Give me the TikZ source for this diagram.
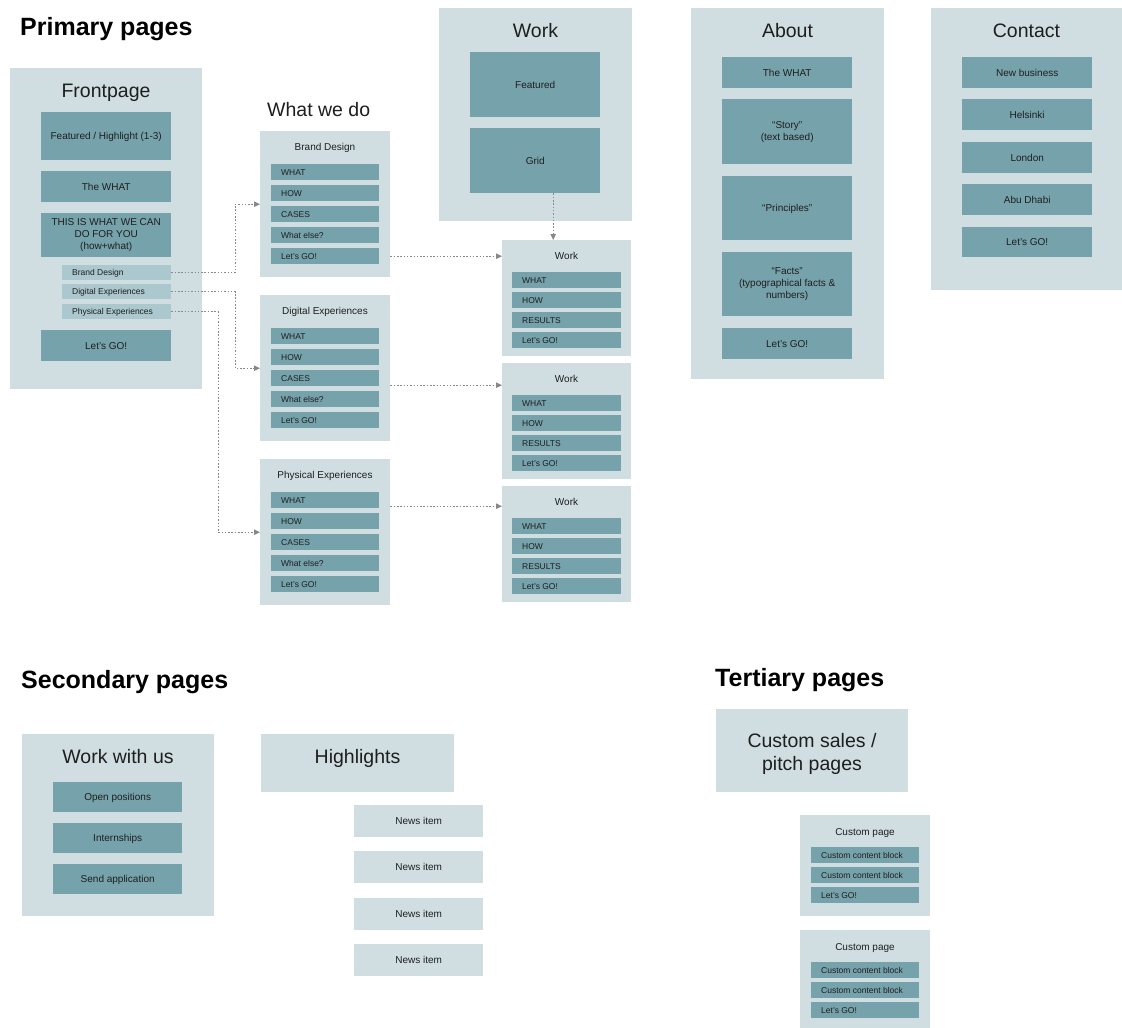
\documentclass[tikz,border=0pt]{standalone}
\usepackage{fontspec}
\setmainfont{Liberation Sans}
\usetikzlibrary{arrows.meta}

\definecolor{panelc}{HTML}{D0DEE2}
\definecolor{itemc}{HTML}{76A2AB}
\definecolor{lightc}{HTML}{ABC8CE}
\definecolor{txt}{HTML}{1E1E1E}
\definecolor{linkc}{HTML}{888888}

% box from (x1,y1) to (x2,y2), text centred
\newcommand\pgbox[7]{%
  \pgfmathsetmacro\bkw{#5-#3}\pgfmathsetmacro\bkh{#6-#4}%
  \node[#1,minimum width=\bkw pt,minimum height=\bkh pt,anchor=north west] (#2) at (#3,#4) {#7};}
% box from (x1,y1) to (x2,y2), text left aligned with 10pt padding
\newcommand\pgboxl[7]{%
  \pgfmathsetmacro\bkw{#5-#3}\pgfmathsetmacro\bkh{#6-#4}\pgfmathsetmacro\bkt{#5-#3-20}%
  \node[#1,minimum width=\bkw pt,minimum height=\bkh pt,anchor=north west] (#2) at (#3,#4) {\makebox[\bkt pt][l]{#7}};}

\tikzset{
  panel/.style={fill=panelc, inner sep=0pt},
  item/.style={fill=itemc, inner sep=0pt, text=txt, font=\fontsize{10}{12}\selectfont, text height=7.2pt, text depth=0pt},
  mitem/.style={fill=itemc, inner sep=0pt, text=txt, font=\fontsize{10}{11.8}\selectfont, align=center},
  sitem/.style={fill=itemc, inner sep=0pt, text=txt, font=\fontsize{8.5}{10}\selectfont, text height=6.1pt, text depth=0pt},
  subitem/.style={fill=lightc, inner sep=0pt, text=txt, font=\fontsize{8.5}{10}\selectfont, text height=6.1pt, text depth=0pt},
  news/.style={fill=panelc, inner sep=0pt, text=txt, font=\fontsize{10}{12}\selectfont, text height=7.2pt, text depth=0pt},
  ptitle/.style={inner sep=0pt, text=txt, font=\fontsize{19.5}{23}\selectfont, anchor=base, align=center},
  btitle/.style={inner sep=0pt, text=txt, font=\fontsize{10}{12}\selectfont, anchor=base},
  heading/.style={inner sep=0pt, text=black, font=\bfseries\fontsize{25}{30}\selectfont, anchor=base west},
  link/.style={draw=linkc, line width=1pt, dash pattern=on 1.5pt off 1.8pt,
               -{Triangle[length=6pt,width=5.5pt]}},
}

\begin{document}
\begin{tikzpicture}[x=1pt,y=-1pt]
\useasboundingbox (0,0) rectangle (1122,1028);
\fill[white] (0,0) rectangle (1122,1028);

% ---------- headings ----------
\node[heading] (h1) at (20,35) {Primary pages};
\node[heading] (h2) at (21,688) {Secondary pages};
\node[heading] (h3) at (715,686) {Tertiary pages};

% ---------- Frontpage ----------
\pgbox{panel}{fp}{10}{68}{202}{389}{}
\node[ptitle] (fp-t) at (106,97) {Frontpage};
\pgbox{item}{fp-feat}{41}{112}{171}{160}{Featured / Highlight (1-3)}
\pgbox{item}{fp-what}{41}{171}{171}{202}{The WHAT}
\pgbox{mitem}{fp-this}{41}{213}{171}{257}{THIS IS WHAT WE CAN\\DO FOR YOU\\(how+what)}
\pgboxl{subitem}{fbd}{62}{265}{171}{280}{Brand Design}
\pgboxl{subitem}{fde}{62}{284}{171}{299}{Digital Experiences}
\pgboxl{subitem}{fpe}{62}{304}{171}{319}{Physical Experiences}
\pgbox{item}{fp-go}{41}{330}{171}{361}{Let's GO!}

% ---------- What we do ----------
\node[ptitle, anchor=base west] (wd-t) at (267,116) {What we do};
\foreach \n/\T/\ttl in {1/131/Brand Design, 2/295/Digital Experiences, 3/459/Physical Experiences} {
  \pgfmathsetmacro\B{\T+146}
  \pgbox{panel}{wd\n}{260}{\T}{390}{\B}{}
  \node[btitle] (wd\n-t) at (325,\T+19) {\ttl};
  \foreach \k/\lab in {0/WHAT,1/HOW,2/CASES,3/What else?,4/Let's GO!} {
    \pgfmathsetmacro\ya{\T+33+21*\k}\pgfmathsetmacro\yb{\ya+16}
    \pgboxl{sitem}{wd\n-\k}{271}{\ya}{379}{\yb}{\lab}
  }
}

% ---------- Work ----------
\pgbox{panel}{wtop}{439}{8}{632}{221}{}
\node[ptitle] (wtop-t) at (535.5,37) {Work};
\pgbox{item}{wfeat}{470}{52}{600}{117}{Featured}
\pgbox{item}{wgrid}{470}{128}{600}{193}{Grid}

\foreach \n/\T in {1/240, 2/363, 3/486} {
  \pgfmathsetmacro\B{\T+116}
  \pgbox{panel}{wk\n}{502}{\T}{631}{\B}{}
  \node[btitle] (wk\n-t) at (566.5,\T+19) {Work};
  \foreach \k/\lab in {0/WHAT,1/HOW,2/RESULTS,3/Let's GO!} {
    \pgfmathsetmacro\ya{\T+32+20*\k}\pgfmathsetmacro\yb{\ya+16}
    \pgboxl{sitem}{wk\n-\k}{512}{\ya}{621}{\yb}{\lab}
  }
}

% ---------- About ----------
\pgbox{panel}{ab}{691}{8}{884}{379}{}
\node[ptitle] (ab-t) at (787.5,37) {About};
\pgbox{item}{ab-what}{722}{57}{852}{88}{The WHAT}
\pgbox{mitem}{ab-story}{722}{99}{852}{164}{“Story”\\(text based)}
\pgbox{item}{ab-princ}{722}{176}{852}{240}{“Principles”}
\pgbox{mitem}{ab-facts}{722}{252}{852}{316}{“Facts”\\(typographical facts \&\\numbers)}
\pgbox{item}{ab-go}{722}{328}{852}{359}{Let's GO!}

% ---------- Contact ----------
\pgbox{panel}{ct}{931}{8}{1122}{290}{}
\node[ptitle] (ct-t) at (1026.5,37) {Contact};
\pgbox{item}{ct-new}{962}{57}{1092}{88}{New business}
\pgbox{item}{ct-hel}{962}{99}{1092}{130}{Helsinki}
\pgbox{item}{ct-lon}{962}{142}{1092}{173}{London}
\pgbox{item}{ct-abu}{962}{184}{1092}{215}{Abu Dhabi}
\pgbox{item}{ct-go}{962}{227}{1092}{257}{Let's GO!}

% ---------- connectors ----------
\draw[link] (fbd.east) -| ([xshift=-25pt]wd1.west) -- (wd1.west);
\draw[link] (fde.east) -| ([xshift=-25pt]wd2.west) -- (wd2.west);
\draw[link] (fpe.east) -| ([xshift=-42pt]wd3.west) -- (wd3.west);
\draw[link] (wd1.east |- wd1-4) -- (wk1.west |- wd1-4);
\draw[link] ([yshift=-7pt]wd2.east |- wd2-2) -- ([yshift=-7pt]wk2.west |- wd2-2);
\draw[link] ([yshift=-6pt]wd3.east |- wd3-0) -- ([yshift=-6pt]wk3.west |- wd3-0);
\draw[link] ([xshift=18pt]wgrid.south) -- ([xshift=18pt]wgrid.south |- wk1.north);

% ---------- Secondary pages ----------
\pgbox{panel}{wwu}{22}{734}{214}{916}{}
\node[ptitle] (wwu-t) at (118,763) {Work with us};
\pgbox{item}{wwu-open}{53}{782}{182}{812}{Open positions}
\pgbox{item}{wwu-int}{53}{823}{182}{853}{Internships}
\pgbox{item}{wwu-send}{53}{864}{182}{894}{Send application}

\pgbox{panel}{hl}{261}{734}{454}{792}{}
\node[ptitle] (hl-t) at (357.5,763) {Highlights};
\pgbox{news}{news1}{354}{805}{483}{837}{News item}
\pgbox{news}{news2}{354}{851}{483}{883}{News item}
\pgbox{news}{news3}{354}{898}{483}{930}{News item}
\pgbox{news}{news4}{354}{944}{483}{976}{News item}

% ---------- Tertiary pages ----------
\pgbox{panel}{cs}{716}{709}{908}{792}{}
\node[ptitle] (cs-t1) at (812,747) {Custom sales /};
\node[ptitle] (cs-t2) at (812,770) {pitch pages};
\foreach \n/\T/\B in {1/815/916, 2/930/1028} {
  \pgbox{panel}{cp\n}{800}{\T}{930}{\B}{}
  \node[btitle] (cp\n-t) at (865,\T+20) {Custom page};
  \foreach \k/\lab in {0/Custom content block,1/Custom content block,2/Let's GO!} {
    \pgfmathsetmacro\ya{\T+32+20*\k}\pgfmathsetmacro\yb{\ya+16}
    \pgboxl{sitem}{cp\n-\k}{811}{\ya}{919}{\yb}{\lab}
  }
}
\end{tikzpicture}
\end{document}
